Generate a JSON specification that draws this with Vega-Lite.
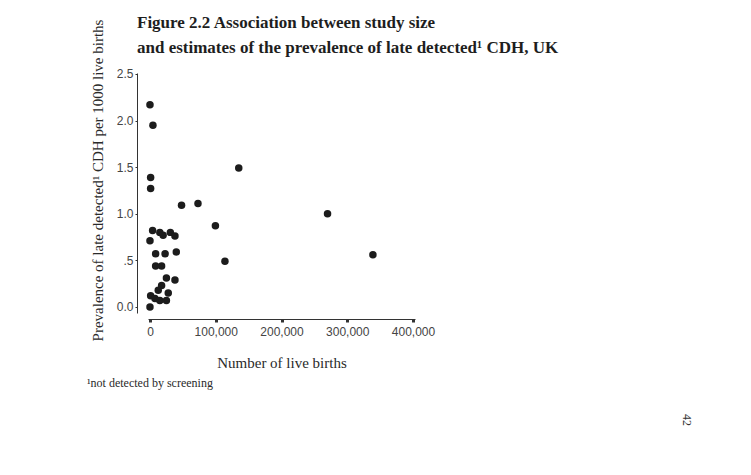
{
  "$schema": "https://vega.github.io/schema/vega-lite/v6.json",
  "width": 267,
  "height": 240,
  "autosize": "none",
  "padding": {"left": 148, "top": 73, "right": 336, "bottom": 162},
  "background": "white",
  "title": {
    "text": ["Figure 2.2 Association between study size", "\u00a0and estimates of the prevalence of late detected\u00b9 CDH, UK"],
    "anchor": "start",
    "frame": "group",
    "dx": -11,
    "offset": 0,
    "dy": 38,
    "font": "Liberation Serif",
    "fontSize": 17,
    "fontWeight": "bold",
    "lineHeight": 25,
    "color": "#1e1e1e"
  },
  "config": {
    "view": {"stroke": null},
    "axis": {"grid": false}
  },
  "layer": [
    {
      "data": {
        "values": [
          {"births": 0, "prevalence": 2.17},
          {"births": 4500, "prevalence": 1.95},
          {"births": 135000, "prevalence": 1.49},
          {"births": 1000, "prevalence": 1.39},
          {"births": 1000, "prevalence": 1.27},
          {"births": 48000, "prevalence": 1.09},
          {"births": 73000, "prevalence": 1.11},
          {"births": 270000, "prevalence": 1.0},
          {"births": 99500, "prevalence": 0.87},
          {"births": 4000, "prevalence": 0.82},
          {"births": 0, "prevalence": 0.71},
          {"births": 15000, "prevalence": 0.8},
          {"births": 20000, "prevalence": 0.77},
          {"births": 31000, "prevalence": 0.8},
          {"births": 38000, "prevalence": 0.76},
          {"births": 8600, "prevalence": 0.57},
          {"births": 23000, "prevalence": 0.57},
          {"births": 40000, "prevalence": 0.59},
          {"births": 114000, "prevalence": 0.49},
          {"births": 339000, "prevalence": 0.56},
          {"births": 8600, "prevalence": 0.44},
          {"births": 17700, "prevalence": 0.44},
          {"births": 25000, "prevalence": 0.31},
          {"births": 38000, "prevalence": 0.29},
          {"births": 17700, "prevalence": 0.23},
          {"births": 12600, "prevalence": 0.18},
          {"births": 27800, "prevalence": 0.15},
          {"births": 1000, "prevalence": 0.12},
          {"births": 7600, "prevalence": 0.09},
          {"births": 15000, "prevalence": 0.07},
          {"births": 25000, "prevalence": 0.07},
          {"births": 0, "prevalence": 0.0}
        ]
      },
      "mark": {"type": "circle", "size": 56, "color": "#1c1c1c", "opacity": 1},
      "encoding": {
        "x": {
          "field": "births",
          "type": "quantitative",
          "scale": {"domain": [-3000, 403000], "nice": false, "zero": false},
          "axis": {
            "title": "Number of live births",
            "values": [0, 100000, 200000, 300000, 400000],
            "format": ",d",
            "offset": 6,
            "domainColor": "#333",
            "tickColor": "#333",
            "tickSize": 3,
            "tickWidth": 3,
            "labelFont": "Liberation Sans",
            "labelFontSize": 12,
            "labelColor": "#444",
            "labelPadding": 4,
            "titleFont": "Liberation Serif",
            "titleFontSize": 15,
            "titleFontWeight": "normal",
            "titleColor": "#2a2a2a",
            "titlePadding": 18
          }
        },
        "y": {
          "field": "prevalence",
          "type": "quantitative",
          "scale": {"domain": [-0.065, 2.51], "nice": false, "zero": false},
          "axis": {
            "title": "Prevalence of late detected\u00b9 CDH per 1000 live births",
            "values": [0, 0.5, 1, 1.5, 2, 2.5],
            "labelExpr": "datum.value == 0.5 ? '.5' : format(datum.value, '.1f')",
            "offset": 11,
            "domainColor": "#333",
            "tickColor": "#333",
            "tickSize": 2,
            "labelFont": "Liberation Sans",
            "labelFontSize": 12,
            "labelColor": "#444",
            "labelPadding": 2,
            "titleFont": "Liberation Serif",
            "titleFontSize": 15,
            "titleFontWeight": "normal",
            "titleColor": "#2a2a2a",
            "titleX": -40,
            "titleY": 107,
            "titleAngle": 270,
            "titleAlign": "center",
            "titleBaseline": "middle"
          }
        }
      }
    },
    {
      "data": {"values": [{"note": "\u00b9not detected by screening"}]},
      "mark": {"type": "text", "align": "left", "baseline": "middle", "font": "Liberation Serif", "fontSize": 12, "color": "#2a2a2a"},
      "encoding": {
        "text": {"field": "note"},
        "x": {"value": -61},
        "y": {"value": 310}
      }
    },
    {
      "data": {"values": [{"page": "42"}]},
      "mark": {"type": "text", "align": "center", "baseline": "middle", "angle": 90, "font": "Liberation Serif", "fontSize": 12, "color": "#333"},
      "encoding": {
        "text": {"field": "page"},
        "x": {"value": 539},
        "y": {"value": 347}
      }
    }
  ]
}
